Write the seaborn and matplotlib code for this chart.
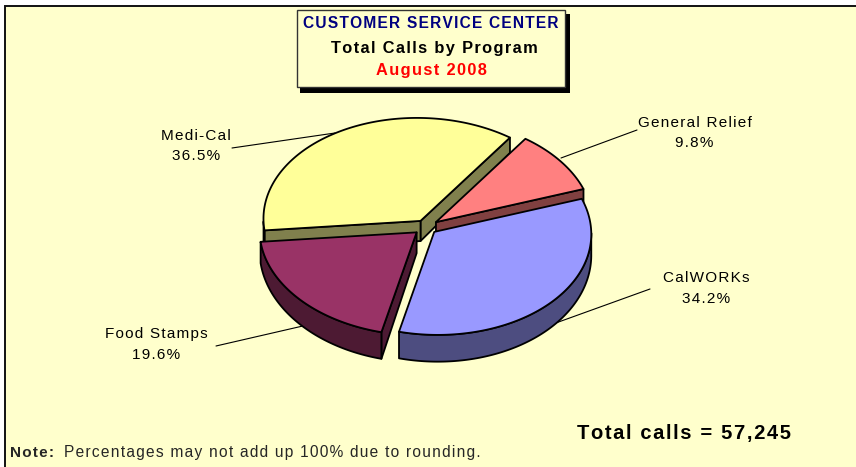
import numpy as np
import matplotlib
matplotlib.use("Agg")
import matplotlib.pyplot as plt
import seaborn as sns

programs = ["General Relief", "CalWORKs", "Food Stamps", "Medi-Cal"]
shares = [9.8, 34.2, 19.6, 36.5]
top_colors = ["#FF8080", "#9999FF", "#993366", "#FFFF99"]
explode = [0.08, 0.07, 0.08, 0.068]
total_text = "Total calls = 57,245"
title_lines = ["CUSTOMER SERVICE CENTER", "Total Calls by Program", "August 2008"]

BG = "#FFFFCC"
CX, CY, RX, RY = 426, 227, 157, 103
sns.set_theme(style="white")
plt.rcParams["font.family"] = ["Liberation Sans", "DejaVu Sans"]

fig = plt.figure(figsize=(8.56, 4.67), dpi=100, facecolor="white")
ax = fig.add_axes([0, 0, 1, 1])

# the pie itself supplies the angles and explosion of each slice
wedges, _ = ax.pie(shares, startangle=54, counterclock=False, explode=explode,
                   normalize=True, colors=top_colors)
geom = [(w.theta1, w.theta2, w.center) for w in wedges]
for w in wedges:
    w.remove()
ax.set_aspect("auto")
ax.set_xlim(0, 856)
ax.set_ylim(467, 0)
ax.axis("off")


def spaced(s):
    return "\u200a".join(s)


def thick(v):
    return 20.5 - 6.0 * v


def proj(u, v, down=False):
    u, v = np.asarray(u, float), np.asarray(v, float)
    x = CX + RX * u - 3.5 * v
    y = CY - RY * v
    return x, y + (thick(v) if down else 0)


def darker(c):
    return tuple(np.array(matplotlib.colors.to_rgb(c)) * 0.5)


ax.add_patch(plt.Rectangle((5.5, 5.5), 900, 500, fc=BG, ec="#111111", lw=1.4, zorder=0))

# leader lines, behind the slices
leaders = [((561, 158), (637, 130)), ((553, 324), (650, 289)),
           ((305, 325.5), (216, 346)), ((335, 133), (232, 148))]
for (a, b) in leaders:
    ax.plot([a[0], b[0]], [a[1], b[1]], color="black", lw=0.8, zorder=1)

# painter's order: back to front
order = [3, 0, 2, 1]
z = 2
for i in order:
    t1, t2, (ox, oy) = geom[i]
    col = top_colors[i]
    dark = darker(col)
    th = np.radians(np.linspace(t1, t2, 160))
    u, v = ox + np.cos(th), oy + np.sin(th)
    # radial faces turned towards the viewer
    for t, sign in ((t1, -1), (t2, 1)):
        n = np.radians(t + sign * 90)
        if np.sin(n) < 0:
            r = np.radians(t)
            fu = np.array([ox, ox + np.cos(r)])
            fv = np.array([oy, oy + np.sin(r)])
            x0, y0 = proj(fu, fv)
            x1, y1 = proj(fu, fv, True)
            ax.fill(np.r_[x0, x1[::-1]], np.r_[y0, y1[::-1]], fc=dark, ec="black",
                    lw=1.3, joinstyle="round", zorder=z)
            z += 1
    # outer wall, front half only
    mask = np.sin(th) < 0.0
    if mask.any():
        x0, y0 = proj(u[mask], v[mask])
        x1, y1 = proj(u[mask], v[mask], True)
        ax.fill(np.r_[x0, x1[::-1]], np.r_[y0, y1[::-1]], fc=dark, ec="black",
                lw=1.3, joinstyle="round", zorder=z)
        z += 1
    # top face
    x0, y0 = proj(np.r_[ox, u], np.r_[oy, v])
    ax.fill(x0, y0, fc=col, ec="black", lw=1.3, joinstyle="round", zorder=z)
    z += 1

# slice labels
label_pos = [(694.5, 133), (706, 288.5), (156, 344.5), (196, 146)]
for name, share, (lx, ly) in zip(programs, shares, label_pos):
    ax.text(lx, ly, spaced(name) + "\n" + spaced(f"{share}%"), ha="center", va="center",
            fontsize=11, linespacing=1.6, color="black", zorder=50)

# title box
ax.add_patch(plt.Rectangle((300, 14), 270, 79, fc="black", ec="none", zorder=60))
ax.add_patch(plt.Rectangle((297, 10), 268, 77, fc=BG, ec="#333333", lw=1.0, zorder=61))
for txt, xx, yy, c, fs in zip(title_lines, (431, 434.5, 431.5), (24, 48.5, 70),
                              ("#000080", "black", "#FF0000"), (11.2, 11.8, 11.8)):
    ax.text(xx, yy, spaced(txt), ha="center", va="center", fontsize=fs, fontweight="bold",
            color=c, zorder=62)

ax.text(684, 433, spaced(total_text), ha="center", va="center", fontsize=14.5, fontweight="bold",
        color="black", zorder=50)
ax.text(10, 453, spaced("Note:"), ha="left", va="center", fontsize=11, fontweight="bold", zorder=50)
ax.text(64, 453, spaced("Percentages may not add up 100% due to rounding."), ha="left", va="center",
        fontsize=11.2, zorder=50)

fig.savefig("out.png", dpi=100, facecolor="white")
